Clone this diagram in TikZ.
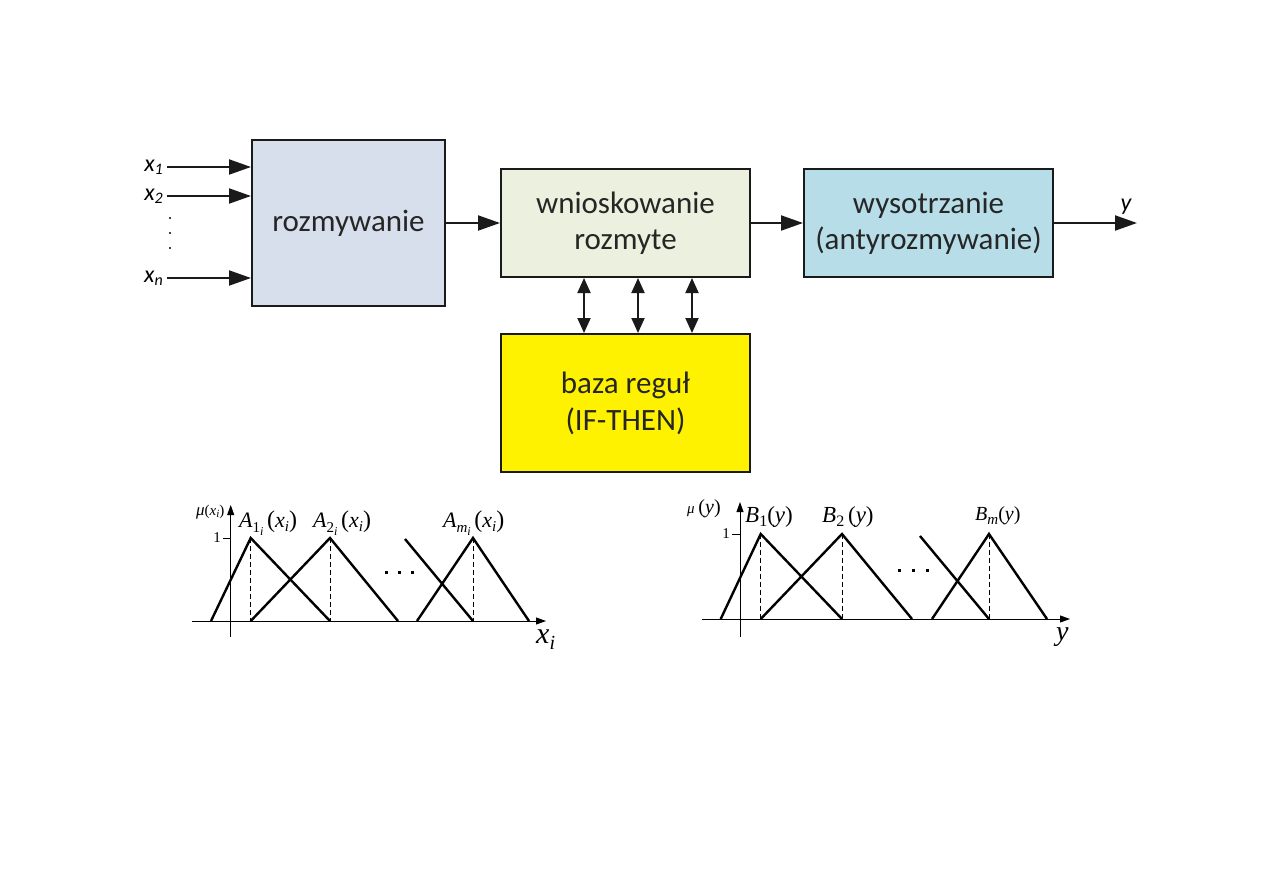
\documentclass[tikz,border=0pt]{standalone}
\usepackage{fontspec}
\setmainfont{Carlito}
\newfontfamily\tms{Liberation Serif}
\usetikzlibrary{arrows.meta}
\definecolor{cfz}{HTML}{D6DFEB}
\definecolor{cinf}{HTML}{EBF1DE}
\definecolor{cdfz}{HTML}{B7DEE8}
\definecolor{edge}{HTML}{1A1A1A}
\newcommand\fs[1]{\fontsize{#1}{#1}\selectfont}
\newcommand\lowr[2]{\raisebox{-#1pt}{#2}}
\begin{document}
\begin{tikzpicture}[x=1pt,y=-1pt]
\useasboundingbox[fill=white] (0,0) rectangle (1263,893);
\tikzset{
 blk/.style={draw=edge, line width=2pt, align=center, inner sep=0pt, text=black!85, font=\fontsize{31}{36}\selectfont},
 flow/.style={line width=2pt, draw=edge, -{Triangle[length=22pt,width=15pt]}},
 dbl/.style={line width=2pt, draw=edge, {Triangle[length=15pt,width=13pt]}-{Triangle[length=15pt,width=13pt]}},
 mf/.style={line width=2.4pt, line join=miter},
 ax/.style={line width=0.9pt, -{Triangle[length=10pt,width=7pt]}},
 dsh/.style={line width=0.8pt, dash pattern=on 5pt off 3pt},
 inlab/.style={anchor=base east, inner sep=0pt, font=\fs{24}\itshape},
 plab/.style={anchor=base west, inner sep=0pt, font=\tms\fs{22}},
}
% blocks
\node[blk, fill=cfz, minimum width=193pt, minimum height=166pt] (fz) at (348.5,223) {rozmywanie};
\node[blk, fill=cinf, minimum width=249pt, minimum height=108pt] (inf) at (625.5,223) {wnioskowanie\\rozmyte};
\node[blk, fill=cdfz, minimum width=249pt, minimum height=108pt] (dfz) at (928.5,223) {wysotrzanie\\(antyrozmywanie)};
\node[blk, fill=yellow, minimum width=249pt, minimum height=138pt, font=\fontsize{31}{37}\selectfont] (kb) at (625.5,403) {baza reguł\\(IF-THEN)};
% inputs
\coordinate (i1) at (167,167);
\coordinate (i2) at (167,196);
\coordinate (in) at (167,278);
\draw[flow] (i1) -- (fz.west |- i1);
\draw[flow] (i2) -- (fz.west |- i2);
\draw[flow] (in) -- (fz.west |- in);
\node[inlab] (l1) at (163,172) {x\lowr{3}{\fs{16}1}};
\node[inlab] (l2) at (163,201) {x\lowr{3}{\fs{16}2}};
\node[inlab] (ln) at (163,283) {x\lowr{3}{\fs{16}n}};
\foreach \yy in {218,233,248} \fill (170,\yy) circle (1.2);
% flow
\draw[flow] (fz.east |- inf) -- (inf);
\draw[flow] (inf) -- (dfz);
\coordinate (out) at (1137,223);
\draw[flow] (dfz) -- (out);
\node[anchor=base, inner sep=0pt, font=\fs{24}\itshape] (yl) at (1126,211) {y};
% double arrows
\foreach \dx in {-41.5,12.5,66.5}
  \draw[dbl] ([xshift=\dx pt]inf.south) -- ([xshift=\dx pt]kb.north);
% left plot
\draw[ax] (192,621) -- (546,621);
\draw[ax] (230.7,637) -- (230.7,505);
\draw[line width=0.9pt] (223,538) -- (230.7,538);
\node[anchor=east, inner sep=0pt, font=\tms\fs{15}] at (221,538) {1};
\draw[dsh] (250.7,538) -- (250.7,621);
\draw[dsh] (330,538) -- (330,621);
\draw[dsh] (473,538) -- (473,621);
\draw[mf] (211,621) -- (250.7,538) -- (330,621);
\draw[mf] (250.7,621) -- (330,538) -- (398,621);
\draw[mf] (405,539) -- (473,621);
\draw[mf] (417,621) -- (473,538) -- (529,621);
\foreach \xx in {385,398,411} \fill (\xx,574) rectangle ++(3,-3);
\node[anchor=base west, inner sep=0pt, font=\tms\fs{17}] at (196,515) {\itshape μ\upshape\fs{15}(\itshape x\lowr{2}{\fs{11}i}\upshape)};
\node[plab] at (239,527) {\itshape A\lowr{5}{\upshape\fs{15}1\lowr{3}{\itshape\fs{12}i}}\upshape\,\fs{24}(\itshape\fs{22}x\lowr{4}{\fs{15}i}\upshape\fs{24})};
\node[plab] at (313,527) {\itshape A\lowr{5}{\upshape\fs{15}2\lowr{3}{\itshape\fs{12}i}}\upshape\,\fs{24}(\itshape\fs{22}x\lowr{4}{\fs{15}i}\upshape\fs{24})};
\node[plab] at (443,527) {\itshape A\lowr{5}{\fs{15}m\lowr{3}{\fs{12}i}}\upshape\,\fs{24}(\itshape\fs{22}x\lowr{4}{\fs{15}i}\upshape\fs{24})};
\node[anchor=base west, inner sep=0pt, font=\tms\fs{30}\itshape] at (536,643) {x\lowr{6}{\fs{20}i}};
% right plot
\draw[ax] (702,619) -- (1070,619);
\draw[ax] (740,637) -- (740,502);
\draw[line width=0.9pt] (732,534) -- (740,534);
\node[anchor=east, inner sep=0pt, font=\tms\fs{15}] at (730,534) {1};
\draw[dsh] (760.7,534) -- (760.7,619);
\draw[dsh] (842,534) -- (842,619);
\draw[dsh] (989,534) -- (989,619);
\draw[mf] (720.7,619) -- (760.7,534) -- (842,619);
\draw[mf] (760.7,619) -- (842,534) -- (912,619);
\draw[mf] (920,536) -- (989,619);
\draw[mf] (932,619) -- (989,534) -- (1047,619);
\foreach \xx in {898,912,926} \fill (\xx,572) rectangle ++(3,-3);
\node[anchor=base west, inner sep=0pt, font=\tms\fs{15}] at (687,513) {\itshape μ\upshape\ \fs{20}(\itshape y\upshape)};
\node[plab, font=\tms\fs{23}] at (745,522) {\itshape B\lowr{4}{\upshape\fs{16}1}\upshape(\itshape y\upshape)};
\node[plab, font=\tms\fs{23}] at (822,522) {\itshape B\lowr{4}{\upshape\fs{16}2}\upshape\,(\itshape y\upshape)};
\node[plab, font=\tms\fs{20}] at (975,520) {\itshape B\lowr{4}{\fs{15}m}\upshape(\itshape y\upshape)};
\node[anchor=base west, inner sep=0pt, font=\tms\fs{28}\itshape] at (1056,640) {y};
\end{tikzpicture}
\end{document}
